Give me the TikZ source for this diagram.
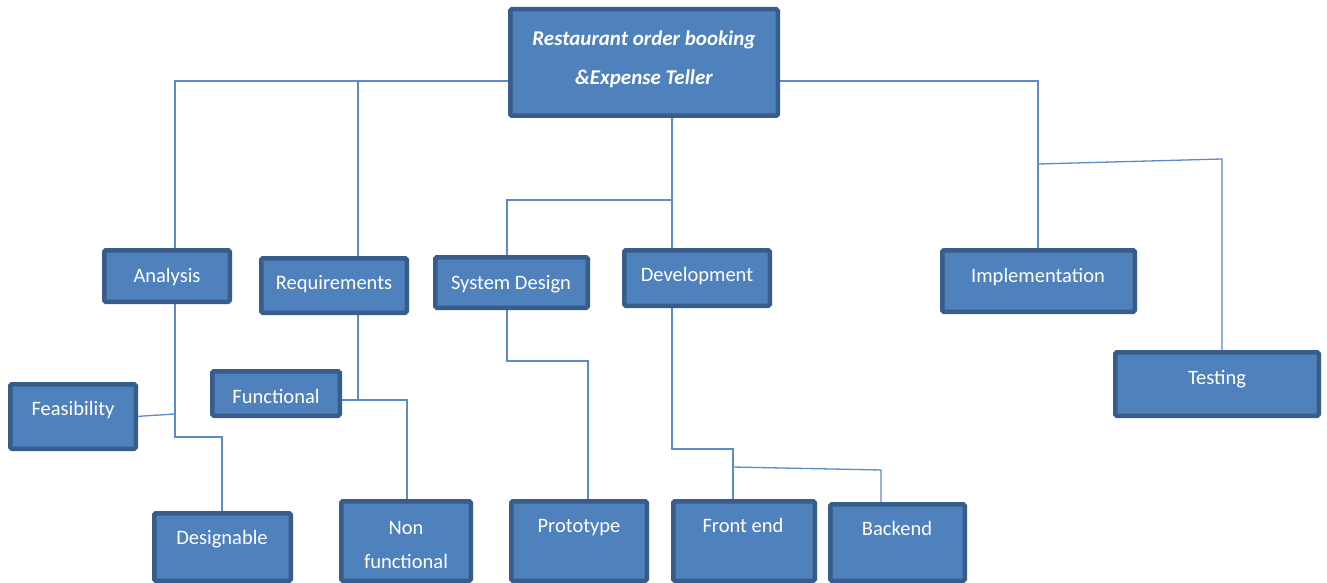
\documentclass[tikz,border=0pt]{standalone}
\usepackage{fontspec}
\setmainfont{Carlito}
\usetikzlibrary{backgrounds}
\definecolor{boxfill}{HTML}{4F81BD}
\definecolor{boxedge}{HTML}{385D8A}
\definecolor{linkblue}{HTML}{5B8BC8}
\tikzset{
  wbs/.style={draw=boxedge, fill=boxfill, line width=4.5pt, rounded corners=1.5pt,
    inner sep=0pt, outer sep=0pt, anchor=north west},
  lbl/.style={text=white, font=\fontsize{20.5}{24}\selectfont, inner sep=0pt,
    text height=0.62em, text depth=0pt},
  ttl/.style={lbl, font=\bfseries\itshape\fontsize{21}{24}\selectfont},
  link/.style={draw=linkblue, line width=1.3pt},
}
% #1 name, #2 left, #3 top, #4 right, #5 bottom (outer edges of the border)
\newcommand\wbsbox[5]{%
  \node[wbs, minimum width={#4pt-#2pt-4.5pt}, minimum height={#5pt-#3pt-4.5pt}]
    (#1) at ({#2+2.25},{#3+2.25}) {};}
\begin{document}
\begin{tikzpicture}[x=1pt,y=-1pt]
\clip (0,0) rectangle (1327,583);

% boxes
\wbsbox{top}{508}{7}{780}{118}
\wbsbox{analysis}{102}{248}{232}{304}
\wbsbox{req}{259}{256}{409}{315}
\wbsbox{sd}{433}{255}{590}{310}
\wbsbox{dev}{622}{248}{772}{308}
\wbsbox{impl}{940}{248}{1137}{314}
\wbsbox{test}{1113}{350}{1321}{418}
\wbsbox{feas}{8}{382}{138}{451}
\wbsbox{func}{210}{369}{342}{418}
\wbsbox{design}{152}{511}{293}{583}
\wbsbox{nonf}{339}{499}{473}{583}
\wbsbox{proto}{509}{499}{649}{583}
\wbsbox{front}{671}{499}{817}{583}
\wbsbox{back}{828}{502}{967}{583}

% labels
\node[ttl] (top-t1) at (644,42) {Restaurant order booking};
\node[ttl] (top-t2) at (644,81) {\&Expense Teller};
\node[lbl] (analysis-t) at (167,279) {Analysis};
\node[lbl] (req-t) at (334,286) {Requirements};
\node[lbl] (sd-t) at (511,286) {System Design};
\node[lbl] (dev-t) at (697,278) {Development};
\node[lbl] (impl-t) at (1038,279) {Implementation};
\node[lbl] (test-t) at (1217,381) {Testing};
\node[lbl] (feas-t) at (73,412) {Feasibility};
\node[lbl] (func-t) at (276,400) {Functional};
\node[lbl] (design-t) at (222,541) {Designable};
\node[lbl] (nonf-t1) at (406,531) {Non};
\node[lbl] (nonf-t2) at (406,565) {functional};
\node[lbl] (proto-t) at (579,529) {Prototype};
\node[lbl] (front-t) at (743,529) {Front end};
\node[lbl] (back-t) at (897,532) {Backend};

% junction points of the connectors
\coordinate (jA) at (175,81);
\coordinate (jR) at (358,81);
\coordinate (jI) at (1038,81);
\coordinate (jT1) at (1038,164);
\coordinate (jT2) at (1222,159);
\coordinate (jD) at (672,200);
\coordinate (jS) at (507,200);
\coordinate (jF) at (175,414);
\coordinate (jG) at (175,437);
\coordinate (jG2) at (222,437);
\coordinate (jN) at (358,400);
\coordinate (jN2) at (407,400);
\coordinate (jP) at (507,361);
\coordinate (jP2) at (588,361);
\coordinate (jE) at (672,449);
\coordinate (jE2) at (733,449);
\coordinate (jB1) at (733,467);
\coordinate (jB2) at (881,470);

\begin{scope}[on background layer]
  \fill[white] (0,0) rectangle (1327,583);
  \draw[link] (jA |- analysis.north) -- (jA) -- (jA -| top.west);
  \draw[link] (jR) -- (jR |- req.north);
  \draw[link] (jI -| top.east) -- (jI) -- (jI |- impl.north);
  \draw[link] (jT1) -- (jT2) -- (jT2 |- test.north);
  \draw[link] (jD |- top.south) -- (jD |- dev.north);
  \draw[link] (jD) -- (jS) -- (jS |- sd.north);
  \draw[link] (jF |- analysis.south) -- (jG) -- (jG2) -- (jG2 |- design.north);
  \draw[link] (feas.east) -- (jF);
  \draw[link] (jN |- req.south) -- (jN) -- (jN2) -- (jN2 |- nonf.north);
  \draw[link] (func.east |- jN) -- (jN);
  \draw[link] (jP |- sd.south) -- (jP) -- (jP2) -- (jP2 |- proto.north);
  \draw[link] (jE |- dev.south) -- (jE) -- (jE2) -- (jE2 |- front.north);
  \draw[link] (jB1) -- (jB2) -- (jB2 |- back.north);
\end{scope}
\end{tikzpicture}
\end{document}
